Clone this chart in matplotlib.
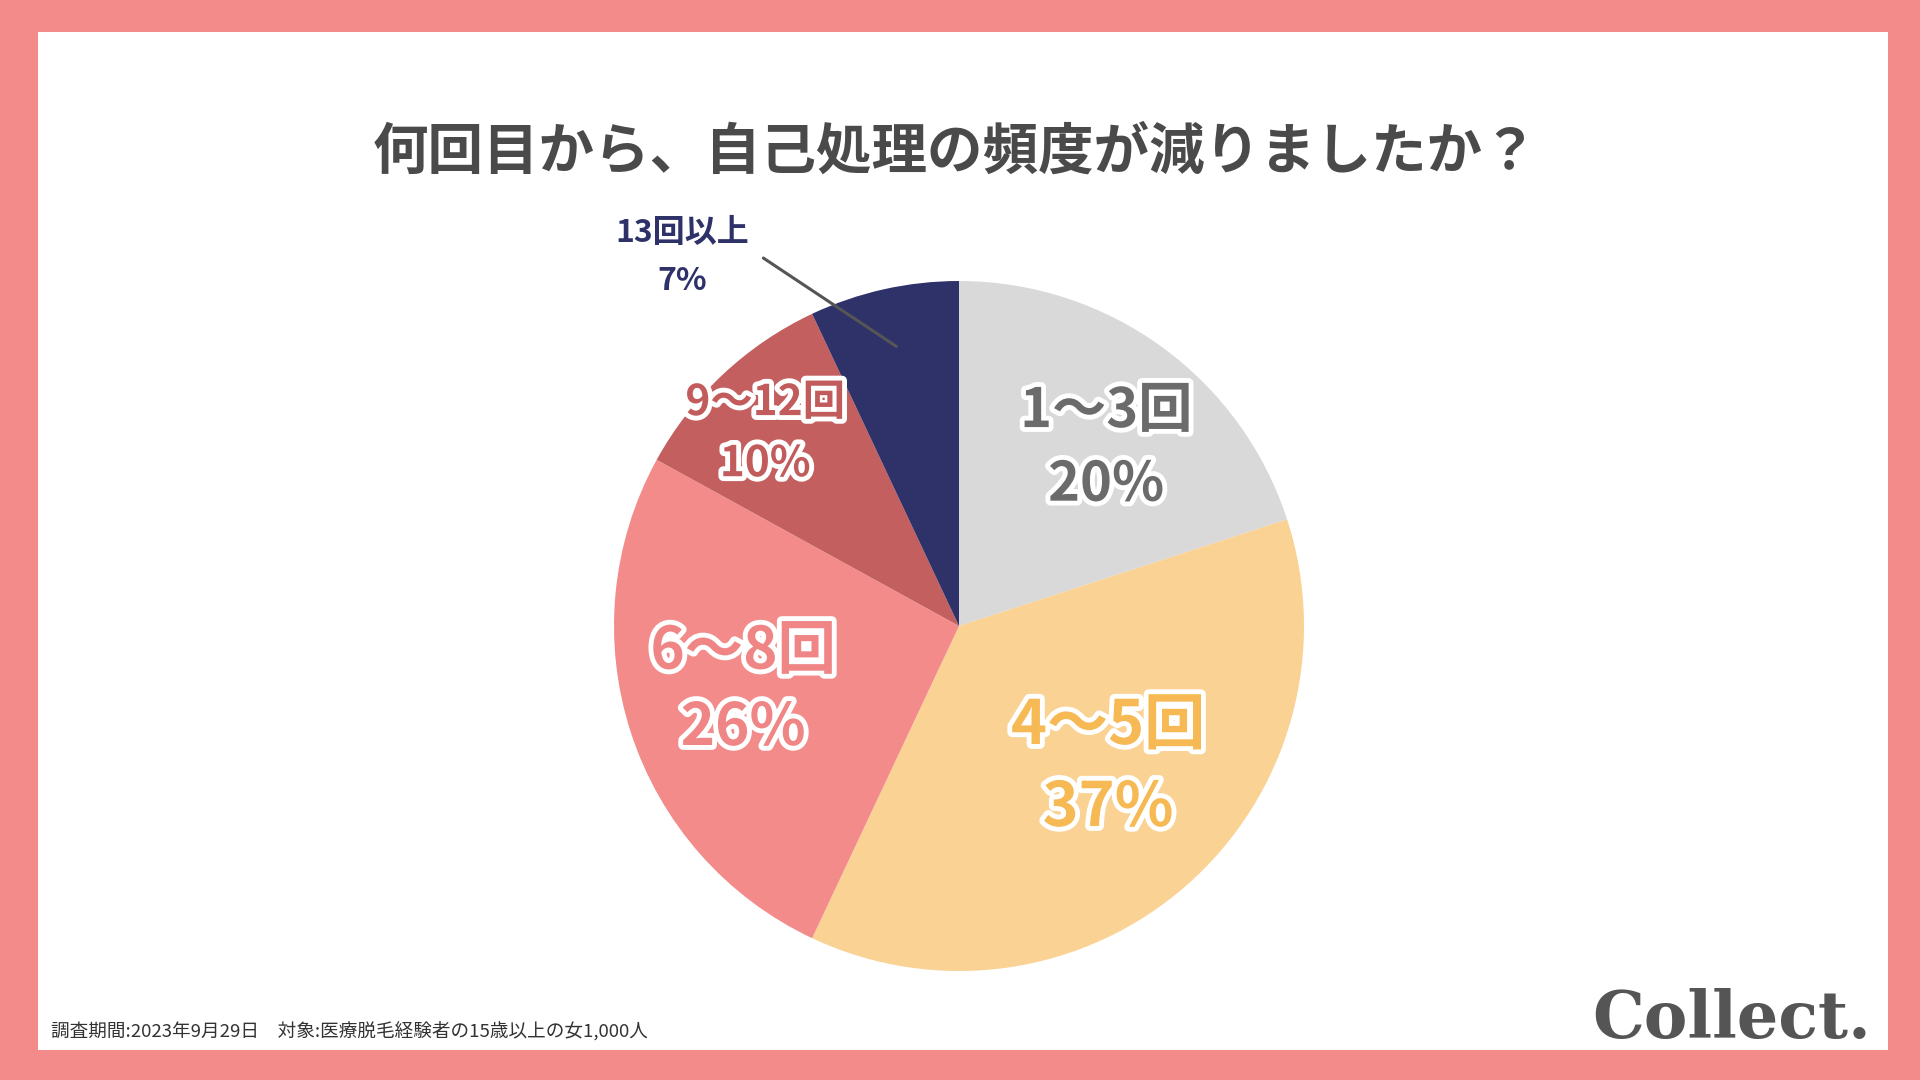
import numpy as np
import matplotlib
matplotlib.use("Agg")
import matplotlib.pyplot as plt
from matplotlib.patches import Rectangle
import matplotlib.patheffects as pe

plt.rcParams['font.family'] = ['Noto Sans CJK JP', 'DejaVu Sans']

# ---- data ----
categories = ["1〜3回", "4〜5回", "6〜8回", "9〜12回", "13回以上"]
values = [20, 37, 26, 10, 7]
pct_labels = ["20%", "37%", "26%", "10%", "7%"]
title = "何回目から、自己処理の頻度が減りましたか？"
footnote = "調査期間:2023年9月29日　対象:医療脱毛経験者の15歳以上の女1,000人"
brand = "Collect."

# ---- styles ----
wedge_colors = ["#d9d9d9", "#f9d294", "#f38b8b", "#c45f5f", "#2e3269"]
text_colors = ["#6b6b6b", "#f6b954", "#ef8585", "#c25c5c", "#2e3269"]
font_sizes = [39, 44, 42, 30.5, 23]
line_gaps = [53, 59, 55, 44, 34.5]           # points between line centres
y_shift = [-3, -3, -2, -2, -3]                # points
label_r = [0.678, 0.587, 0.65, 0.797, 1.346]  # radial distance
label_nudge = [-3, 6, -2.2, 1.6, 24]          # angular nudge (deg)
outlined = [True, True, True, True, False]

W, H = 1920, 1080
fig = plt.figure(figsize=(19.2, 10.8), dpi=100)
fig.patch.set_facecolor("#f48b8b")
fig.patches.append(Rectangle((38 / W, 1 - 1050 / H), 1850 / W, 1018 / H,
                             transform=fig.transFigure, facecolor="white",
                             edgecolor="none", zorder=-10))

# pie axes: centre (959, 626) px, radius 345 px
R = 345.0
cx, cy = 959.0, 626.0
xl, xr, yb, yt = -1.6, 1.6, -1.1, 1.6
left = cx + xl * R
bottom = (H - cy) + yb * R
ax = fig.add_axes([left / W, bottom / H, (xr - xl) * R / W, (yt - yb) * R / H])
ax.set_zorder(1)
ax.patch.set_alpha(0)
wedges, _ = ax.pie(values, startangle=90, counterclock=False,
                   colors=wedge_colors, radius=1.0,
                   wedgeprops=dict(linewidth=0))
ax.set_xlim(xl, xr)
ax.set_ylim(yb, yt)
ax.set_aspect('equal', adjustable='box')
ax.axis('off')

for i, w in enumerate(wedges):
    mid = np.deg2rad((w.theta1 + w.theta2) / 2.0)
    ang = mid + np.deg2rad(label_nudge[i])
    x, y = label_r[i] * np.cos(ang), label_r[i] * np.sin(ang)
    effects = [pe.withStroke(linewidth=7, foreground="white")] if outlined[i] else []
    for txt, off in ((categories[i], line_gaps[i] / 2), (pct_labels[i], -line_gaps[i] / 2)):
        t = ax.annotate(txt, xy=(x, y), xytext=(0, off + y_shift[i]),
                        textcoords='offset points',
                        ha='center', va='center', fontsize=font_sizes[i],
                        fontweight='bold', color=text_colors[i], zorder=5)
        if effects:
            t.set_path_effects(effects)
    if not outlined[i]:
        # leader line from near the label to inside the wedge
        r_in = 0.83
        p_end = (r_in * np.cos(mid), r_in * np.sin(mid))
        a0 = np.deg2rad(118)
        p_start = (1.208 * np.cos(a0), 1.208 * np.sin(a0))
        ax.annotate("", xy=p_end, xytext=p_start,
                    arrowprops=dict(arrowstyle='-', color="#555555", lw=2.2,
                                    shrinkA=0, shrinkB=0), zorder=6)

fig.text(955 / W, 1 - 153 / H, title, ha='center', va='center',
         fontsize=40, fontweight='bold', color="#4a4a4a")
fig.text(51 / W, 1 - 1032 / H, footnote, ha='left', va='center',
         fontsize=13.4, color="#333333")
fig.text(1871 / W, 1 - 1038 / H, brand, ha='right', va='baseline',
         fontsize=47, fontweight='bold', color="#555555",
         family=['DejaVu Serif'])

fig.savefig("out.png", dpi=100, facecolor=fig.get_facecolor())
